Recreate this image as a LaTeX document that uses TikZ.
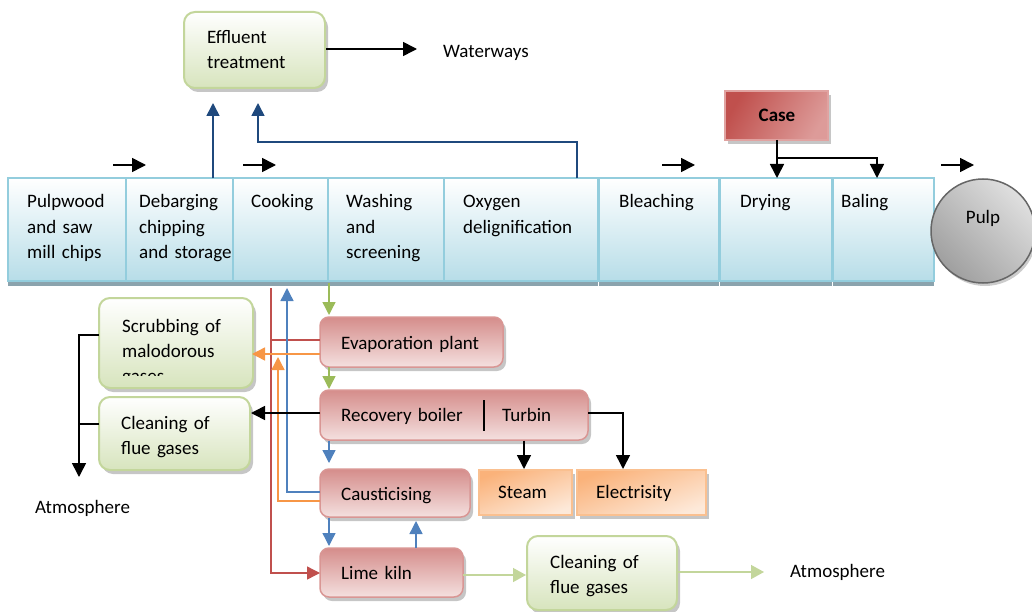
\documentclass[tikz,border=0pt]{standalone}
\usepackage{fontspec}
\setmainfont{Carlito}
\usetikzlibrary{arrows.meta,shadows,calc}
\definecolor{topbd}{HTML}{93CDDD}
\definecolor{topbot}{HTML}{B7DDE8}
\definecolor{topshadow}{HTML}{8BA3AD}
\definecolor{redbd}{HTML}{D99694}
\definecolor{redA}{HTML}{D58D8B}
\definecolor{redB}{HTML}{F4E0DF}
\definecolor{caseA}{HTML}{C0504D}
\definecolor{caseB}{HTML}{E0A3A1}
\definecolor{greenbd}{HTML}{C3D69B}
\definecolor{greenB}{HTML}{D7E4BD}
\definecolor{orA}{HTML}{FAB27A}
\definecolor{orB}{HTML}{FDE9D9}
\definecolor{orbd}{HTML}{FAC090}
\definecolor{navy}{HTML}{1F497D}
\definecolor{lblue}{HTML}{4F81BD}
\definecolor{lred}{HTML}{C0504D}
\definecolor{lorange}{HTML}{F79646}
\definecolor{lgreen}{HTML}{9BBB59}
\definecolor{pgreen}{HTML}{C3D69B}
\begin{document}
\begin{tikzpicture}[x=1pt,y=-1pt,
  font=\fontsize{19}{25}\selectfont,
  topbox/.style={draw=topbd, line width=1.5pt, top color=white, bottom color=topbot,
    minimum height=103, inner sep=0,
    drop shadow={shadow xshift=0pt, shadow yshift=-5pt, fill=topshadow, opacity=1}},
  redbox/.style={draw=redbd, line width=1.5pt, rounded corners=9pt, top color=redA, bottom color=redB,
    inner sep=0, drop shadow={shadow xshift=3pt, shadow yshift=-4pt, fill=gray, opacity=0.45}},
  greenbox/.style={draw=greenbd, line width=2pt, rounded corners=11pt, top color=white, bottom color=greenB,
    inner sep=0, drop shadow={shadow xshift=3pt, shadow yshift=-4pt, fill=gray, opacity=0.45}},
  orbox/.style={draw=orbd, line width=1.5pt, top color=orA, bottom color=orB, shading angle=20,
    inner sep=0, drop shadow={shadow xshift=3pt, shadow yshift=-4pt, fill=gray, opacity=0.45}},
  casebox/.style={draw=caseB, line width=1.5pt, left color=caseA, right color=caseB!90!caseA, shading angle=60,
    inner sep=0, drop shadow={shadow xshift=3pt, shadow yshift=-4pt, fill=gray, opacity=0.45}},
  txt/.style={anchor=base west, inner sep=0, align=left, text width=170pt},
  blk/.style={line width=1.6pt, -{Triangle[length=14pt,width=14pt]}},
  blkline/.style={line width=1.6pt},
  colarrow/.style={line width=1.4pt, -{Triangle[length=13pt,width=13pt]}},
]
\useasboundingbox (0,0) rectangle (1032,612);

% ---- top row boxes
\node[topbox, minimum width=118] (pulpwood) at (67,229.5) {};
\node[topbox, minimum width=107] (debar) at (179.5,229.5) {};
\node[topbox, minimum width=95] (cook) at (280.5,229.5) {};
\node[topbox, minimum width=116] (wash) at (386,229.5) {};
\node[topbox, minimum width=154] (oxy) at (521,229.5) {};
\node[topbox, minimum width=120] (bleach) at (659,229.5) {};
\node[topbox, minimum width=112] (dry) at (776,229.5) {};
\node[topbox, minimum width=101] (bale) at (883.5,229.5) {};
\node[circle, draw=gray!80!black, line width=1.5pt, left color=gray!75, right color=gray!25, shading angle=135,
  minimum size=104, inner sep=0, drop shadow={shadow xshift=2pt, shadow yshift=-3pt, fill=gray, opacity=0.4}] (pulp) at (983,231) {};

\node[txt] (tpulpwood) at (27,208) {Pulpwood\\and saw\\mill chips};
\node[txt] (tdebar) at (139,208) {Debarging\\chipping\\and storage};
\node[txt] (tcook) at (251,208) {Cooking};
\node[txt] (twash) at (346,208) {Washing\\and\\screening};
\node[txt] (toxy) at (463,208) {Oxygen\\delignification};
\node[txt] (tbleach) at (619,208) {Bleaching};
\node[txt] (tdry) at (740,208) {Drying};
\node[txt] (tbale) at (841,208) {Baling};
\node[anchor=base, inner sep=0] (tpulp) at (983,223) {Pulp};

% ---- small process arrows
\coordinate (a1s) at (113,165); \coordinate (a1e) at (146,165);
\coordinate (a2s) at (243,165); \coordinate (a2e) at (276,165);
\coordinate (a3s) at (662,165); \coordinate (a3e) at (695,165);
\coordinate (a4s) at (941,165); \coordinate (a4e) at (974,165);
\draw[blk] (a1s) -- (a1e);
\draw[blk] (a2s) -- (a2e);
\draw[blk] (a3s) -- (a3e);
\draw[blk] (a4s) -- (a4e);

% ---- effluent
\node[greenbox, minimum width=141, minimum height=76] (eff) at (254.5,50) {};
\node[txt] (teff) at (207,44) {Effluent\\treatment};
\coordinate (wend) at (417,49);
\draw[blk] (eff.east |- wend) -- (wend);
\node[txt] (water) at (443,58) {Waterways};

\coordinate (nb1) at (213,178.5);
\coordinate (nb1e) at (213,103);
\draw[colarrow, draw=navy, line width=1.6pt] (nb1) -- (nb1e);
\coordinate (nb2) at (577,178.5);
\coordinate (nb2m) at (258,142);
\coordinate (nb2e) at (258,103);
\draw[colarrow, draw=navy, line width=1.6pt] (nb2) |- (nb2m) -- (nb2e);

% ---- case
\node[casebox, minimum width=103, minimum height=49] (case) at (776.5,115.5) {};
\node[anchor=base, inner sep=0, font=\fontsize{19}{25}\selectfont\bfseries] (tcase) at (777,122) {Case};
\coordinate (cs) at (777,140);
\coordinate (ce1) at (777,178);
\coordinate (cb) at (777,158);
\coordinate (cbr) at (877,158);
\coordinate (ce2) at (877,178);
\draw[blk] (cs) -- (ce1);
\draw[blk] (cb) -- (cbr) -- (ce2);

% ---- lower boxes
\node[redbox, minimum width=183, minimum height=50] (evap) at (411.5,342) {};
\node[txt] (tevap) at (341,349) {Evaporation plant};
\node[redbox, minimum width=268, minimum height=50] (recov) at (454,415) {};
\node[txt] (trecov) at (341,421) {Recovery boiler};
\node[txt] (tturb) at (502,421) {Turbin};
\coordinate (dv1) at (484,400); \coordinate (dv2) at (484,431);
\draw[blkline] (dv1) -- (dv2);
\node[redbox, minimum width=150, minimum height=48] (caust) at (395,493) {};
\node[txt] (tcaust) at (341,500) {Causticising};
\node[orbox, minimum width=93, minimum height=45] (steam) at (525.5,492.5) {};
\node[txt] (tsteam) at (498,498) {Steam};
\node[orbox, minimum width=129, minimum height=45] (elec) at (641.5,492.5) {};
\node[txt] (telec) at (596,498) {Electrisity};
\node[redbox, minimum width=143, minimum height=49] (lime) at (391.5,572.5) {};
\node[txt] (tlime) at (341,579) {Lime kiln};
\node[greenbox, minimum width=150, minimum height=74] (clean2) at (602,573) {};
\node[txt] (tclean2) at (550,568) {Cleaning of\\flue gases};
\node[greenbox, minimum width=154, minimum height=90] (scrub) at (176,343) {};
\begin{scope}
  \clip (100,300) rectangle (250,375.5);
  \node[txt] (tscrub) at (122,332) {Scrubbing of\\malodorous\\gases};
\end{scope}
\node[greenbox, minimum width=151, minimum height=73] (clean1) at (174.5,433.5) {};
\node[txt] (tclean1) at (121,429) {Cleaning of\\flue gases};

\node[txt] (atm1) at (35,513) {Atmosphere};
\node[txt] (atm2) at (790,577) {Atmosphere};

% ---- green flow arrows
\coordinate (g1s) at (329,283); \coordinate (g1e) at (329,315);
\coordinate (g2s) at (329,367); \coordinate (g2e) at (329,389);
\draw[colarrow, draw=lgreen] (g1s) -- (g1e);
\draw[colarrow, draw=lgreen] (g2s) -- (g2e);

% ---- red
\coordinate (r0) at (271,288);
\coordinate (r1) at (271,573);
\coordinate (r2) at (320,573);
\coordinate (rh) at (271,340);
\coordinate (rh2) at (320,340);
\draw[colarrow, draw=lred] (r0) -- (r1) -- (r2);
\draw[line width=1.4pt, draw=lred] (rh) -- (rh2);

% ---- blue from causticising to cooking
\coordinate (b0) at (320,492);
\coordinate (b1) at (287,492);
\coordinate (b2) at (287,288);
\draw[colarrow, draw=lblue] (b0) -- (b1) -- (b2);

% ---- orange
\coordinate (o0) at (320,501);
\coordinate (o1) at (278,501);
\coordinate (o2) at (278,357);
\draw[colarrow, draw=lorange] (o0) -- (o1) -- (o2);
\coordinate (o3) at (320,354);
\coordinate (o4) at (252,354);
\draw[colarrow, draw=lorange] (o3) -- (o4);

% ---- black arrows
\coordinate (k0) at (320,413);
\coordinate (k1) at (251,413);
\draw[blk] (k0) -- (k1);
\coordinate (k2) at (99,335);
\coordinate (k3) at (79,335);
\coordinate (k4) at (79,477);
\draw[blk] (k2) -- (k3) -- (k4);
\coordinate (k5) at (99,424);
\coordinate (k6) at (79,424);
\draw[blkline] (k5) -- (k6);
\coordinate (t0) at (524,440.5);
\coordinate (t1) at (524,469);
\draw[blk] (t0) -- (t1);
\coordinate (t2) at (588,413);
\coordinate (t3) at (623,413);
\coordinate (t4) at (623,469);
\draw[blk] (t2) -- (t3) -- (t4);

% ---- light blue small arrows
\coordinate (lb0) at (329,440.5); \coordinate (lb1) at (329,463);
\coordinate (lb2) at (329,517.5); \coordinate (lb3) at (329,546);
\coordinate (lb4) at (416,547.5); \coordinate (lb5) at (416,521);
\draw[colarrow, draw=lblue] (lb0) -- (lb1);
\draw[colarrow, draw=lblue] (lb2) -- (lb3);
\draw[colarrow, draw=lblue] (lb4) -- (lb5);

% ---- pale green arrows
\coordinate (p0) at (463,575); \coordinate (p1) at (526,575);
\coordinate (p2) at (677,572); \coordinate (p3) at (764,572);
\draw[colarrow, draw=pgreen, -{Triangle[length=13pt,width=14pt]}] (p0) -- (p1);
\draw[colarrow, draw=pgreen, -{Triangle[length=13pt,width=14pt]}] (p2) -- (p3);
\end{tikzpicture}
\end{document}
